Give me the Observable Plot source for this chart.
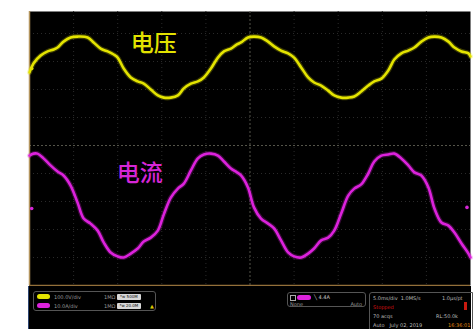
<!DOCTYPE html>
<html>
<head>
<meta charset="utf-8">
<script src="https://cdn.jsdelivr.net/npm/d3@7"></script>
<script src="https://cdn.jsdelivr.net/npm/@observablehq/plot@0.6"></script>
<style>
  html, body { margin: 0; padding: 0; background: #fff; }
  #wrap { position: relative; width: 473px; height: 329px; overflow: hidden; font-family: "DejaVu Sans", sans-serif; }
  #chart svg { display: block; }
  #panel { position: absolute; left: 28px; top: 286px; width: 443px; height: 43px; background: #000; border-left: 1px solid #2c4470; box-sizing: border-box; }
  .box { position: absolute; border: 1px solid #555; border-radius: 3px; box-sizing: border-box; }
  .t { position: absolute; font-size: 5px; line-height: 6px; color: #9a9a9a; white-space: nowrap; }
  .pill { position: absolute; width: 13px; height: 5px; border-radius: 3px; }
  .bw { position: absolute; width: 24px; height: 6px; background: #d8d8d8; border-radius: 1px; font-size: 4px; line-height: 6px; color: #111; text-align: center; }
</style>
</head>
<body>
<div id="wrap">
  <div id="chart"></div>
  <div id="panel"></div>
</div>
<script>
// time in ms (5 ms/div, 10 divisions), values in screen divisions (28 px per div)
const voltTime = [0,0.45,1.25,2.05,2.73,3.18,3.86,4.66,5.45,6.59,
  7.27,8.07,8.86,9.55,10.0,10.68,11.48,12.27,12.95,13.75,
  14.55,15.23,16.02,16.82,17.5,18.3,19.09,19.77,20.57,21.36,
  22.05,22.84,23.52,23.98,24.77,25.45,26.25,27.05,27.73,28.52,
  29.32,30.0,30.8,31.59,32.27,33.07,33.86,34.55,35.34,36.14,
  36.82,37.61,38.41,39.09,39.89,40.68,41.36,42.16,42.95,43.64,
  44.43,45.23,45.91,46.7,47.5,48.18,48.98,49.77,50];
const voltDiv = [2.61,2.93,3.21,3.36,3.43,3.5,3.71,3.86,3.89,3.86,
  3.68,3.46,3.36,3.25,3.14,2.75,2.43,2.29,2.21,2.0,
  1.79,1.71,1.71,1.79,2.04,2.21,2.29,2.43,2.75,3.14,
  3.36,3.46,3.61,3.68,3.86,3.89,3.86,3.71,3.54,3.39,
  3.29,3.14,2.79,2.43,2.25,2.14,1.96,1.79,1.71,1.71,
  1.75,1.93,2.14,2.29,2.39,2.68,3.07,3.29,3.39,3.5,
  3.71,3.86,3.89,3.86,3.71,3.5,3.36,3.29,3.18];
const currTime = [0,0.45,0.91,1.59,2.39,3.18,3.86,4.66,5.45,6.14,
  6.93,7.73,8.41,9.2,10.0,10.68,11.48,12.27,12.95,13.75,
  14.55,15.23,16.02,16.82,17.5,18.3,19.09,19.77,20.57,21.36,
  22.05,22.84,23.52,23.98,24.77,25.45,26.25,27.05,27.73,28.52,
  29.32,30.0,30.8,31.59,32.27,33.07,33.86,34.55,35.34,36.14,
  36.82,37.61,38.41,39.09,39.89,40.68,41.36,42.16,42.95,43.64,
  44.43,45.23,45.91,46.7,47.5,48.18,48.98,49.77,50];
const currDiv = [-0.36,-0.29,-0.29,-0.46,-0.71,-0.93,-1.07,-1.43,-2.04,-2.61,
  -2.79,-3.04,-3.46,-3.82,-3.96,-4.0,-3.86,-3.68,-3.43,-3.29,
  -3.04,-2.46,-1.86,-1.54,-1.36,-0.89,-0.46,-0.32,-0.29,-0.36,
  -0.57,-0.82,-0.96,-1.07,-1.5,-2.21,-2.61,-2.79,-2.96,-3.39,
  -3.82,-3.96,-4.0,-3.86,-3.68,-3.39,-3.29,-3.04,-2.43,-1.79,
  -1.54,-1.39,-1.0,-0.57,-0.36,-0.32,-0.29,-0.46,-0.71,-0.96,
  -1.07,-1.5,-2.25,-2.75,-2.86,-3.11,-3.5,-3.86,-4.0];

const gridX = [5,10,15,20,30,35,40,45];
const gridY = [-4,-3,-2,-1,1,2,3,4];
const centerX = [25];
const centerY = [0];
const labels = [
  {t: 14.1, v: 3.64, text: "电压", color: "#e2e200"},
  {t: 12.5, v: -1.02, text: "电流", color: "#d626d6"}
];
const markers = [
  {t: 0.25, v: 2.75, color: "#e2e200"},
  {t: 0.25, v: -2.25, color: "#d626d6"},
  {t: 49.6, v: -2.21, color: "#d626d6"}
];

const YEL = "#e4e400", MAG = "#dc22dc";
const volt = voltTime.map((t, i) => ({t, v: voltDiv[i]}));
const curr = currTime.map((t, i) => ({t, v: currDiv[i]}));

const chart = Plot.plot({
  width: 473, height: 286,
  marginTop: 11, marginLeft: 29, marginRight: 3, marginBottom: 1,
  x: {domain: [0, 50], axis: null},
  y: {domain: [-5, 4.786], axis: null},
  style: {background: "#fff", overflow: "hidden"},
  marks: [
    Plot.frame({fill: "#000", stroke: null}),
    Plot.ruleX(gridX, {stroke: "#2a2a2a", strokeDasharray: "1,3"}),
    Plot.ruleY(gridY, {stroke: "#2a2a2a", strokeDasharray: "1,3"}),
    Plot.ruleX(centerX, {stroke: "#55554a", strokeDasharray: "2,2"}),
    Plot.ruleY(centerY, {stroke: "#55554a", strokeDasharray: "2,2"}),
    Plot.ruleX([0], {stroke: "#b4955e", strokeWidth: 1.5}),
    Plot.ruleY([-5], {stroke: "#94703a", strokeWidth: 1.5}),
    Plot.line(volt, {x: "t", y: "v", stroke: YEL, strokeWidth: 5, strokeOpacity: 0.25, curve: "catmull-rom"}),
    Plot.line(volt, {x: "t", y: "v", stroke: YEL, strokeWidth: 2.6, curve: "catmull-rom"}),
    Plot.line(curr, {x: "t", y: "v", stroke: MAG, strokeWidth: 5, strokeOpacity: 0.25, curve: "catmull-rom"}),
    Plot.line(curr, {x: "t", y: "v", stroke: MAG, strokeWidth: 2.6, curve: "catmull-rom"}),
    Plot.dot(markers, {x: "t", y: "v", fill: "color", r: 1.8, stroke: null}),
    Plot.text(labels, {x: "t", y: "v", text: "text", fill: "color", fontSize: 23,
      fontFamily: "Noto Sans CJK SC", fontWeight: 500, textAnchor: "middle", dy: 0})
  ]
});
document.getElementById("chart").append(chart);

// bottom status panel
const panel = document.getElementById("panel");
function el(cls, css, html, parent) {
  const d = document.createElement("div");
  d.className = cls; d.style.cssText = css; if (html) d.innerHTML = html;
  (parent || panel).append(d); return d;
}
const chRows = [
  {color: YEL, scale: "100.0V/div", imp: "1MΩ", bw: "ᴮw 500M"},
  {color: MAG, scale: "10.0A/div", imp: "1MΩ", bw: "ᴮw 20.0M"}
];
const lb = el("box", "left:4px;top:5px;width:123px;height:20px;");
chRows.forEach((r, i) => {
  const top = 2 + i * 9;
  el("pill", `left:3px;top:${top}px;background:${r.color};`, "", lb);
  el("t", `left:20px;top:${top - 0.5}px;`, r.scale, lb);
  el("t", `left:70px;top:${top - 0.5}px;`, r.imp, lb);
  el("bw", `left:83px;top:${top - 0.5}px;`, r.bw, lb);
});
el("t", "left:116px;top:11px;color:#d8c800;font-size:5px;", "▲", lb);

const mb = el("box", "left:258px;top:6px;width:79px;height:15px;");
el("t", "left:2px;top:1.5px;width:4px;height:4px;border:1px solid #aaa;", "", mb);
el("pill", `left:9px;top:2px;width:14px;background:${MAG};`, "", mb);
el("t", "left:26px;top:1px;color:#cfcfcf;", "╲ 4.4A", mb);
el("t", "left:2px;top:8px;", "None", mb);
el("t", "right:3px;top:8px;", "Auto", mb);

const rb = el("box", "left:340px;top:6px;width:104px;height:40px;border-radius:3px 0 0 0;");
el("t", "left:3px;top:2px;color:#bdbdbd;", "5.0ms/div&nbsp;&nbsp;1.0MS/s", rb);
el("t", "left:72px;top:2px;color:#bdbdbd;", "1.0μs/pt", rb);
el("t", "left:3px;top:11px;color:#d01010;", "Stopped", rb);
el("t", "left:94px;top:9px;width:3px;height:8px;background:#c81a10;", "", rb);
el("t", "left:3px;top:20px;color:#bdbdbd;", "70 acqs", rb);
el("t", "left:66px;top:20px;color:#bdbdbd;", "RL:50.0k", rb);
el("t", "left:3px;top:29px;color:#bdbdbd;", "Auto&nbsp;&nbsp;&nbsp;July 02, 2019", rb);
el("t", "left:78px;top:29px;color:#e08a10;", "16:36:01", rb);
</script>
</body>
</html>
